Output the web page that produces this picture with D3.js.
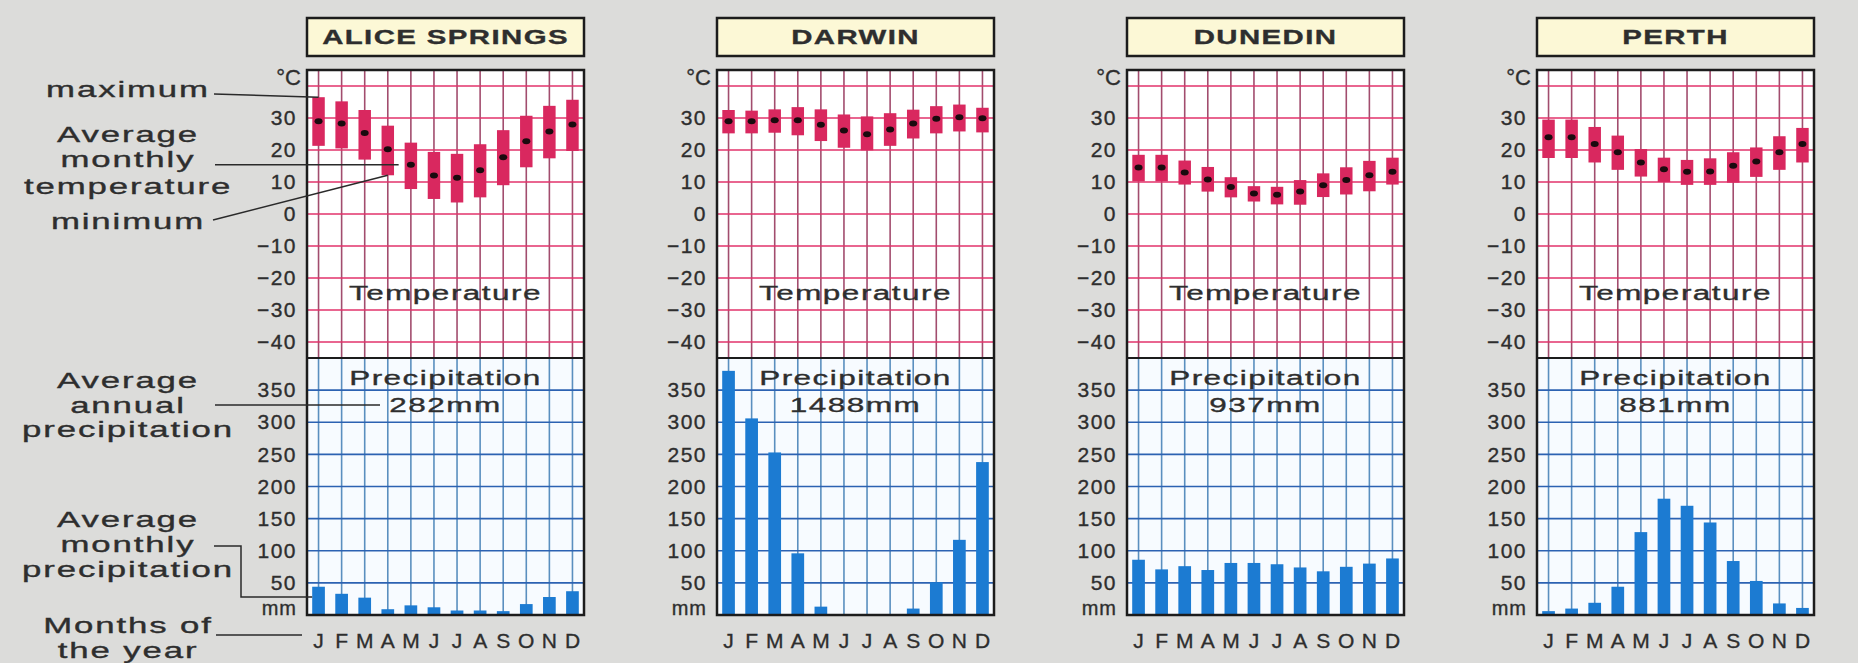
<!DOCTYPE html>
<html><head><meta charset="utf-8">
<script src="https://cdn.jsdelivr.net/npm/d3@7"></script>
<style>
html,body{margin:0;padding:0;background:#dcdcda;}
svg{display:block;}
text{font-family:"Liberation Sans",Arial,Helvetica,sans-serif;fill:#2e2e2e;stroke:#2e2e2e;stroke-width:0.35px;}
</style></head><body>
<svg id="chart" width="1858" height="663"></svg>
<script>
// ---------------- DATA ----------------
const months = ["J","F","M","A","M","J","J","A","S","O","N","D"];
const stationNames = ["ALICE SPRINGS","DARWIN","DUNEDIN","PERTH"];
const annualPrecip = [282, 1488, 937, 881];
const tempTicks = [30,20,10,0,-10,-20,-30,-40];
const precipTicks = [350,300,250,200,150,100,50];

const aliceMax = [36.5,35.2,32.5,27.6,22.3,19.4,18.8,21.8,26.2,30.7,33.8,35.7];
const aliceMin = [21.3,20.5,17.0,12.1,7.8,4.7,3.6,5.2,9.0,14.6,17.4,19.7];
const aliceAvg = [29.0,28.3,25.3,20.2,15.4,12.0,11.3,13.7,17.7,22.7,25.8,28.0];
const alicePrecip = [44,33,27,9,15,12,7,7,6,17,28,37];

const darwinMax = [32.5,32.3,32.7,33.4,32.7,31.1,30.5,31.5,32.6,33.7,34.2,33.2];
const darwinMin = [25.2,25.2,25.4,24.6,22.8,20.7,19.9,21.3,23.6,25.2,25.8,25.5];
const darwinAvg = [29.0,29.0,29.3,29.3,27.9,26.1,24.9,26.4,28.3,29.8,30.2,29.9];
const darwinPrecip = [380,306,253,96,13,0,0,0,10,51,117,238];

const dunedinMax = [18.5,18.5,16.7,14.7,11.5,8.7,8.5,10.6,12.7,14.6,16.6,17.6];
const dunedinMin = [10.2,10.2,9.2,7.0,5.2,3.9,3.0,2.9,5.3,6.1,7.1,9.2];
const dunedinAvg = [14.5,14.5,13.0,10.8,8.4,6.4,6.0,7.0,9.0,10.6,12.1,13.2];
const dunedinPrecip = [86,71,76,70,81,81,79,74,68,75,80,88];

const perthMax = [29.5,29.5,27.2,24.5,20.3,17.6,16.9,17.4,19.3,20.8,24.3,26.9];
const perthMin = [17.5,17.5,16.1,13.8,11.7,10.0,9.1,9.1,9.8,11.6,13.8,16.1];
const perthAvg = [24.0,24.0,21.9,19.3,16.1,14.0,13.2,13.3,15.1,16.4,19.3,21.9];
const perthPrecip = [6,10,19,44,129,181,170,144,84,53,18,11];

const panels = [
  {name: stationNames[0], max: aliceMax, min: aliceMin, avg: aliceAvg, precip: alicePrecip, total: annualPrecip[0]},
  {name: stationNames[1], max: darwinMax, min: darwinMin, avg: darwinAvg, precip: darwinPrecip, total: annualPrecip[1]},
  {name: stationNames[2], max: dunedinMax, min: dunedinMin, avg: dunedinAvg, precip: dunedinPrecip, total: annualPrecip[2]},
  {name: stationNames[3], max: perthMax, min: perthMin, avg: perthAvg, precip: perthPrecip, total: annualPrecip[3]}
];

// ---------------- LAYOUT ----------------
const svg = d3.select("#chart");
const W = 277, TOP = 70, MID = 358, BOTTOM = 615;
const panelLeft = i => 307 + i * 410;
const yT = d3.scaleLinear().domain([-45, 45]).range([MID, TOP]);
const yP = d3.scaleLinear().domain([0, 400]).range([BOTTOM, MID]);

const C = {
  box: "#fcf8d6", ink: "#1c1c1c",
  tGridH: "#e2336b", tGridV: "#a24d6e",
  pGridH: "#2c62b2", pGridV: "#5a8fbf",
  tBar: "#d9285f", pBar: "#1c7bd2", pBg: "#f7fbff"
};

function wideText(sel, x, y, str, o) {
  return sel.append("text")
    .attr("transform", `translate(${x},${y}) scale(${o.sx || 1},1)`)
    .attr("text-anchor", o.anchor || "start")
    .attr("font-size", o.size)
    .attr("font-weight", o.weight || "normal")
    .attr("letter-spacing", o.ls || 0)
    .text(str);
}

panels.forEach((p, i) => {
  const x0 = panelLeft(i);
  const x = d3.scaleBand().domain(d3.range(12)).range([x0, x0 + W]);
  const bw = x.bandwidth();
  const cx = k => x(k) + bw / 2;
  const g = svg.append("g");

  // title box
  g.append("rect").attr("x", x0).attr("y", 18).attr("width", W).attr("height", 38)
    .attr("fill", C.box).attr("stroke", C.ink).attr("stroke-width", 2.5);
  wideText(g, x0 + W / 2, 44, p.name, {size: 21, weight: "bold", sx: 1.4, ls: 1, anchor: "middle"});

  // backgrounds
  g.append("rect").attr("x", x0).attr("y", TOP).attr("width", W).attr("height", MID - TOP).attr("fill", "#ffffff");
  g.append("rect").attr("x", x0).attr("y", MID).attr("width", W).attr("height", BOTTOM - MID).attr("fill", C.pBg);

  // temperature grid
  g.selectAll(".tv").data(d3.range(12)).join("line")
    .attr("x1", cx).attr("x2", cx).attr("y1", TOP).attr("y2", MID)
    .attr("stroke", C.tGridV).attr("stroke-width", 1.6);
  g.selectAll(".th").data(d3.range(-40, 41, 10)).join("line")
    .attr("x1", x0).attr("x2", x0 + W).attr("y1", d => yT(d)).attr("y2", d => yT(d))
    .attr("stroke", C.tGridH).attr("stroke-width", 1.7);

  // precipitation grid
  g.selectAll(".pv").data(d3.range(12)).join("line")
    .attr("x1", cx).attr("x2", cx).attr("y1", MID).attr("y2", BOTTOM)
    .attr("stroke", C.pGridV).attr("stroke-width", 1.6);
  g.selectAll(".ph").data(d3.range(50, 351, 50)).join("line")
    .attr("x1", x0).attr("x2", x0 + W).attr("y1", d => yP(d)).attr("y2", d => yP(d))
    .attr("stroke", C.pGridH).attr("stroke-width", 1.6);

  // temperature bars
  const tw = bw * 0.54;
  g.selectAll(".tb").data(d3.range(12)).join("rect")
    .attr("x", k => cx(k) - tw / 2).attr("width", tw)
    .attr("y", k => yT(p.max[k])).attr("height", k => yT(p.min[k]) - yT(p.max[k]))
    .attr("fill", C.tBar);
  g.selectAll(".td").data(d3.range(12)).join("ellipse")
    .attr("cx", cx).attr("cy", k => yT(p.avg[k])).attr("rx", 4).attr("ry", 3)
    .attr("fill", "#1a0a0e");

  // precipitation bars
  const pw = bw * 0.55;
  g.selectAll(".pb").data(d3.range(12)).join("rect")
    .attr("x", k => cx(k) - pw / 2).attr("width", pw)
    .attr("y", k => yP(p.precip[k])).attr("height", k => yP(0) - yP(p.precip[k]))
    .attr("fill", C.pBar);

  // frame
  g.append("rect").attr("x", x0).attr("y", TOP).attr("width", W).attr("height", BOTTOM - TOP)
    .attr("fill", "none").attr("stroke", C.ink).attr("stroke-width", 2.5);
  g.append("line").attr("x1", x0).attr("x2", x0 + W).attr("y1", MID).attr("y2", MID)
    .attr("stroke", C.ink).attr("stroke-width", 2);

  // axes
  const axT = g.append("g").attr("transform", `translate(${x0},0)`)
    .call(d3.axisLeft(yT).tickValues(tempTicks).tickSize(0).tickPadding(10));
  const axP = g.append("g").attr("transform", `translate(${x0},0)`)
    .call(d3.axisLeft(yP).tickValues(precipTicks).tickSize(0).tickPadding(10));
  [axT, axP].forEach(a => {
    a.select(".domain").remove();
    a.selectAll("text").attr("font-size", 21).attr("letter-spacing", 1.5)
      .attr("fill", "#333").attr("font-family", '"Liberation Sans",Arial,sans-serif');
  });
  const axM = g.append("g").attr("transform", `translate(0,${BOTTOM})`)
    .call(d3.axisBottom(x).tickFormat(k => months[k]).tickSize(0).tickPadding(18));
  axM.select(".domain").remove();
  axM.selectAll("text").attr("font-size", 21).attr("fill", "#333")
    .attr("font-family", '"Liberation Sans",Arial,sans-serif');

  g.append("text").attr("x", x0 - 6).attr("y", yT(40) - 1).attr("text-anchor", "end")
    .attr("font-size", 22).attr("fill", "#333").text("°C");
  g.append("text").attr("x", x0 - 10).attr("y", BOTTOM).attr("text-anchor", "end")
    .attr("font-size", 20).attr("letter-spacing", 1).attr("fill", "#333").text("mm");

  // section labels
  wideText(g, x0 + W / 2, yT(-27), "Temperature", {size: 21, sx: 1.5, ls: 1, anchor: "middle"});
  wideText(g, x0 + W / 2, yP(358), "Precipitation", {size: 21, sx: 1.5, ls: 1, anchor: "middle"});
  wideText(g, x0 + W / 2, yP(316), p.total + "mm", {size: 21, sx: 1.5, ls: 1, anchor: "middle"});

  // annotations on the first panel
  if (i === 0) {
    const a = svg.append("g");
    const st = {size: 22, sx: 1.58, ls: 1.2, anchor: "middle"};
    const ax = 128;
    const line = (pts) => a.append("path").attr("d", d3.line()(pts))
      .attr("fill", "none").attr("stroke", "#2a2a2a").attr("stroke-width", 1.5);

    wideText(a, ax, 97, "maximum", st);
    line([[214, 94], [cx(0), yT(p.max[0])]]);

    wideText(a, ax, 142, "Average", st);
    wideText(a, ax, 167, "monthly", st);
    wideText(a, ax, 194, "temperature", st);
    line([[215, yT(p.avg[4])], [cx(4) - tw / 2 - 6, yT(p.avg[4])]]);

    wideText(a, ax, 229, "minimum", st);
    line([[213, 220], [cx(3), yT(p.min[3])]]);

    wideText(a, ax, 388, "Average", st);
    wideText(a, ax, 413, "annual", st);
    wideText(a, ax, 437, "precipitation", st);
    line([[215, 405], [380, 405]]);

    wideText(a, ax, 527, "Average", st);
    wideText(a, ax, 552, "monthly", st);
    wideText(a, ax, 577, "precipitation", st);
    line([[214, 546], [241, 546], [241, 597], [cx(0) - pw / 2, 597]]);

    wideText(a, ax, 633, "Months of", st);
    wideText(a, ax, 658, "the year", st);
    line([[216, 635], [302, 635]]);
  }
});
</script>
</body></html>
